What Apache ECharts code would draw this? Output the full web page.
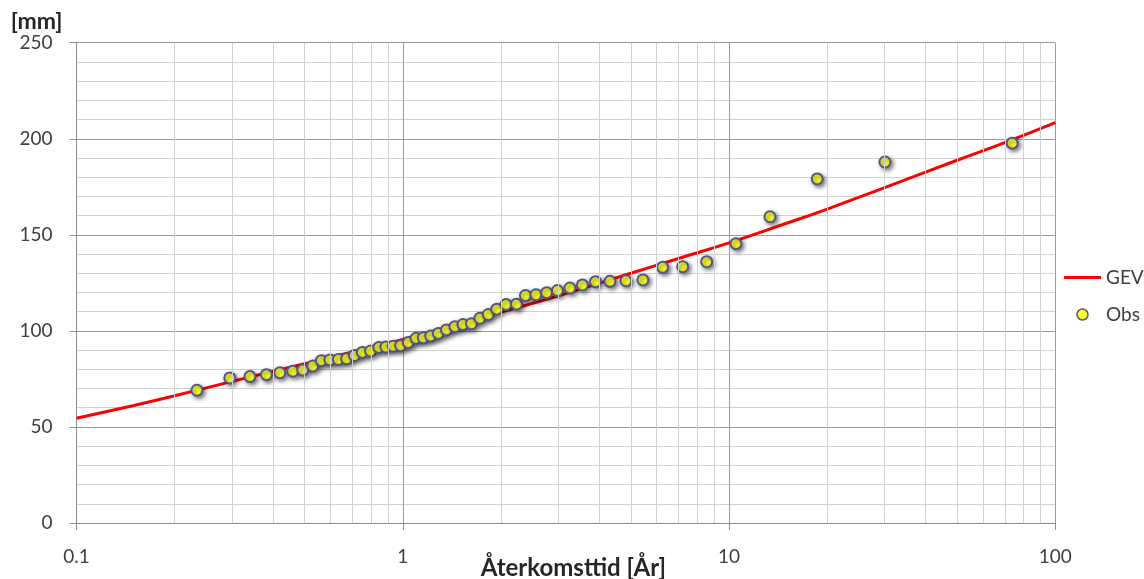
<!DOCTYPE html>
<html><head><meta charset="utf-8">
<script src="https://cdn.jsdelivr.net/npm/echarts@6/dist/echarts.min.js"></script>
<style>html,body{margin:0;padding:0;background:#fff}#c{width:1144px;height:579px}</style>
</head><body><div id="c"></div>
<script>
// Observed return periods [years] and values [mm]
const obsT = [0.234,0.295,0.340,0.382,0.420,0.460,0.494,0.530,0.563,0.598,0.635,0.673,0.711,0.752,0.797,0.845,0.888,0.935,0.985,1.040,1.098,1.156,1.218,1.285,1.361,1.445,1.529,1.624,1.724,1.828,1.941,2.072,2.231,2.377,2.560,2.761,2.980,3.253,3.553,3.896,4.315,4.831,5.446,6.259,7.209,8.538,10.50,13.35,18.63,30.05,73.77];
const obsV = [69.1,75.5,76.2,77.2,78.2,79.0,79.6,81.7,84.5,84.9,85.1,85.5,87.2,88.8,89.5,91.4,91.6,92.0,92.3,93.9,96.1,96.4,97.3,98.7,100.5,102.2,103.3,103.7,106.6,108.5,111.3,113.7,113.9,118.4,118.8,119.9,121.0,122.3,123.9,125.6,125.8,126.1,126.5,133.1,133.4,136.0,145.4,159.4,179.1,187.9,197.7];
// GEV fitted curve
const gevT = [0.1,0.15,0.2,0.3,0.5,0.7,1,1.5,2,3,5,7,10,15,20,30,50,70,100];
const gevV = [54.5,61.2,66.2,73.7,82.9,89.0,95.5,103.8,109.8,118.2,130.0,137.7,145.8,156.0,163.4,174.6,188.8,198.0,208.4];
// Minor vertical grid positions and tick labels
const minorX = [0.2,0.3,0.4,0.5,0.6,0.7,0.8,0.9,2,3,4,5,6,7,8,9,20,30,40,50,60,70,80,90];
const xTickLabels = {0.1:'0.1',1:'1',10:'10',100:'100'};
const seriesNames = ['GEV','Obs'];

const FONT = 'Lato, "Open Sans", sans-serif';
const chart = echarts.init(document.getElementById('c'), null, {renderer:'canvas'});
chart.setOption({
  animation:false,
  backgroundColor:'#ffffff',
  grid:{left:76.5, right:88.7, top:42.7, bottom:56, containLabel:false, outerBoundsMode:'none'},
  legend:{
    orient:'vertical', left:1059, top:263,
    itemWidth:37, itemHeight:11, itemGap:18, symbolKeepAspect:true,
    textStyle:{fontFamily:FONT, fontSize:19, color:'#404040'},
    data:[
      {name:seriesNames[0], icon:'path://M0,0H37V3H0Z', itemStyle:{color:'#ff0000'}},
      {name:seriesNames[1], icon:'circle', itemStyle:{color:'#ffff2e', borderColor:'#55558a', borderWidth:1.5, opacity:1}}
    ]
  },
  xAxis:{
    type:'log', logBase:10, min:0.1, max:100,
    name:'Återkomsttid [År]', nameLocation:'middle', nameGap:33, nameMoveOverlap:false,
    nameTextStyle:{fontFamily:FONT, fontSize:24, fontWeight:'bold', color:'#262626', padding:[0,0,0,15]},
    axisLine:{show:true, lineStyle:{color:'#8c8c8c', width:1}},
    axisTick:{show:true, length:7, lineStyle:{color:'#8c8c8c'}},
    axisLabel:{margin:24, fontFamily:FONT, fontSize:19, color:'#404040',
      formatter:v=>{const k=Number(v.toPrecision(3)); return xTickLabels[k]!==undefined?xTickLabels[k]:'';}},
    splitLine:{show:true, lineStyle:{color:'#9a9a9a', width:1}}
  },
  yAxis:{
    type:'value', min:0, max:250, interval:50,
    name:'[mm]', nameLocation:'end', nameGap:10,
    nameTextStyle:{fontFamily:FONT, fontSize:23, fontWeight:'bold', color:'#262626', align:'right', padding:[0,14,0,0]},
    axisLine:{show:true, lineStyle:{color:'#8c8c8c', width:1}},
    axisTick:{show:true, length:7, lineStyle:{color:'#8c8c8c'}},
    axisLabel:{margin:24, fontFamily:FONT, fontSize:19, color:'#404040'},
    splitLine:{show:true, lineStyle:{color:'#9a9a9a', width:1}},
    minorTick:{show:false, splitNumber:5},
    minorSplitLine:{show:true, lineStyle:{color:'#d0d0d0', width:1}}
  },
  series:[
    {
      name:'grid', type:'line', data:[], silent:true, z:0,
      markLine:{silent:true, symbol:'none', label:{show:false}, animation:false,
        lineStyle:{color:'#d0d0d0', width:1, type:'solid'},
        data:minorX.map(v=>({xAxis:v}))}
    },
    {
      name:seriesNames[0], type:'line', smooth:true, symbol:'none', z:2,
      lineStyle:{color:'#ff0000', width:3},
      itemStyle:{color:'#ff0000'},
      data:gevT.map((t,i)=>[t,gevV[i]])
    },
    {
      name:seriesNames[1], type:'scatter', symbol:'circle', symbolSize:11, z:3,
      itemStyle:{color:'#ffff2e', borderColor:'#55558a', borderWidth:2, opacity:1,
        shadowBlur:4, shadowColor:'rgba(0,0,0,0.5)', shadowOffsetX:2, shadowOffsetY:2},
      data:obsT.map((t,i)=>[t,obsV[i]])
    }
  ]
});
</script></body></html>
